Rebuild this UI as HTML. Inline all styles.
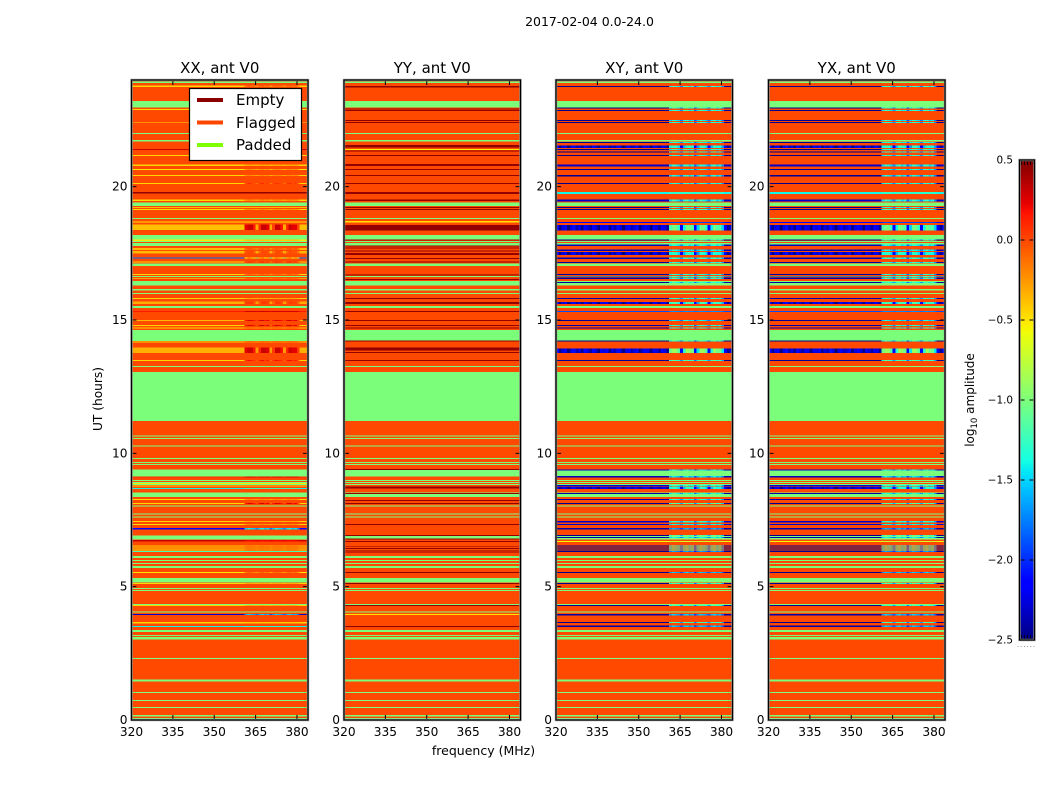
<!DOCTYPE html>
<html>
<head>
<meta charset="utf-8">
<title>2017-02-04 0.0-24.0</title>
<style>
html,body{margin:0;padding:0;background:#fff;width:1050px;height:800px;overflow:hidden}
svg{display:block}
text{font-family:"DejaVu Sans","Liberation Sans",sans-serif;fill:#000}
</style>
</head>
<body>
<svg id="figure" width="1050" height="800" viewBox="0 0 1050 800" xmlns="http://www.w3.org/2000/svg">
  <rect x="0" y="0" width="1050" height="800" fill="#fff"/>
  <text x="589.5" y="26" font-size="12.5" text-anchor="middle">2017-02-04 0.0-24.0</text>
  <text x="483.5" y="755" font-size="12.5" text-anchor="middle">frequency (MHz)</text>
  <text x="0" y="0" font-size="12.2" text-anchor="middle" transform="translate(102,399) rotate(-90)">UT (hours)</text>
  <g id="panels"></g>
  <g id="legend">
    <rect x="189.5" y="88.5" width="112" height="72" fill="#fff" stroke="#000" stroke-width="1.2"/>
    <line x1="197" x2="223" y1="100" y2="100" stroke="#8b0000" stroke-width="4"/>
    <text x="236" y="105" font-size="15">Empty</text>
    <line x1="197" x2="223" y1="122.5" y2="122.5" stroke="#ff4500" stroke-width="4"/>
    <text x="236" y="128" font-size="15">Flagged</text>
    <line x1="197" x2="223" y1="145" y2="145" stroke="#7fff00" stroke-width="4"/>
    <text x="236" y="150" font-size="15">Padded</text>
  </g>
  <g id="colorbar"></g>
  <text x="0" y="0" font-size="12" text-anchor="middle" transform="translate(974,400) rotate(-90)">log<tspan dy="3" font-size="8.5">10</tspan><tspan dy="-3"> amplitude</tspan></text>
</svg>
<script>
// ---- chart data (hours UT, MHz, log10 amplitude) ----
var panelTitles = ['XX, ant V0', 'YY, ant V0', 'XY, ant V0', 'YX, ant V0'];
var xTicks = [320, 335, 350, 365, 380];
var yTicks = [0, 5, 10, 15, 20];
var colorbarTicks = [0.5, 0, -0.5, -1, -1.5, -2, -2.5];
var flaggedValue = 0;
var paddedValue = -1;
// relative response across 64 one-MHz channels, 320..383 MHz (thick rows)
var channelShape = [0,0,0,0,0,0,0,0,0,0,0,0,0,0,0,0,0,0,0,0,0,0,0,0,0,0,0,0,0,0,0,0,0,0,0,0,0,0,0,0,0,
  0.9,1,1,0.8,0.1,0.7,1,1,0.9,0.1,0.6,1,1,0.8,0.1,0.7,1,0.9,0.9,0.6,0,0,0];
// the same response as it appears on thin rows, where the notches wash out
var thinRowShape = [0,0,0,0,0,0,0,0,0,0,0,0,0,0,0,0,0,0,0,0,0,0,0,0,0,0,0,0,0,0,0,0,0,0,0,0,0,0,0,0,0,
  0.8,1,0.9,0.8,0.6,0.9,1,0.8,0.9,0.5,0.8,1,0.9,0.8,0.6,0.9,1,0.8,0.9,0.6,0,0,0];
// channel-to-channel speckle seen on thick low-amplitude rows
var quietSpeckle = [0.1,-0.2,0,0.1,-0.25,0,0.15,-0.1,0,-0.2,0.1,0,-0.15,0.1,0,-0.25,0.05,0,0.1,-0.2,0,-0.1,0.15,0,-0.25,0,0.1,-0.1,0,0.15,-0.2,0,
  0.1,0,-0.25,0.05,0,-0.15,0.1,0,-0.2,0,0,0,0,0,0,0,0,0,0,0,0,0,0,0,0,0,0,0,0,0.1,-0.2,0];
// padded time ranges [startHour, endHour]
var paddedBands = [[23.94,23.89],[23.21,22.97],[22.01,21.98],[21.75,21.69],[19.41,19.28],[18.83,18.79],[18.19,18.02],
  [17.96,17.92],[17.89,17.78],[17.12,17.03],[16.65,16.61],[16.46,16.29],[16.16,16.11],[16.01,15.98],[15.53,15.45],
  [14.63,14.21],[13.28,13.23],[13.05,11.21],[10.67,10.63],[10.58,10.54],[10.29,10.26],[9.83,9.79],[9.68,9.64],
  [9.60,9.56],[9.39,9.13],[9.0,8.96],[8.93,8.89],[8.85,8.81],[8.53,8.36],[8.04,8.01],[7.74,7.71],[7.63,7.59],
  [6.92,6.77],[6.15,6.08],[6.0,5.96],[5.89,5.85],[5.78,5.70],[5.33,5.16],[4.95,4.91],[4.88,4.84],[4.35,4.31],
  [4.07,4.03],[3.38,3.30],[3.19,3.15],[3.11,3.02],[2.33,2.29],[1.52,1.44],[1.05,1.01],[0.75,0.71],[0.49,0.45],
  [0.19,0.13],[0.08,0]];
// XX rows [startHour, endHour, quietValue, activeValue]
var xxRows = [[23.79,23.74,-0.45,-0.1],[22.91,22.87,-0.45,-0.45],[22.43,22.40,-0.45,-0.45],[21.41,21.38,0.3,0.3],
  [21.19,21.15,-0.45,-0.45],[20.83,20.78,-0.45,-0.3],[20.66,20.63,-0.5,-0.2],[20.44,20.40,-0.45,-0.2],
  [20.14,20.10,-0.45,0.1],[19.80,19.74,0.45,0.45],[19.52,19.47,-0.45,-0.2],[19.24,19.20,-0.35,-0.35],
  [19.16,19.13,-0.45,-0.2],[18.69,18.66,-0.5,-0.5],[18.58,18.38,-0.38,0.3],[18.02,17.97,-0.5,-0.4],
  [17.70,17.63,-0.35,-0.05],[17.59,17.49,-0.35,0],[17.34,17.30,-1.8,-0.3],[17.19,17.16,-0.45,0.1],
  [16.73,16.68,-0.45,-0.1],[16.58,16.55,-0.6,-0.2],[15.83,15.79,-0.45,-0.3],[15.69,15.60,-0.32,0.05],
  [15.34,15.30,0.15,0.3],[15.0,14.96,-0.35,0.3],[14.81,14.78,-0.45,0.3],[14.72,14.69,-0.45,-0.2],
  [14.19,14.16,-0.45,-0.2],[13.97,13.76,-0.33,0.3],[13.50,13.46,-0.45,0.2],[9.13,9.09,0.1,0.25],
  [8.88,8.85,-0.5,-0.5],[8.79,8.75,-0.45,-0.4],[8.70,8.66,-1.4,-1.2],[8.29,8.25,-0.45,-0.2],[8.14,8.10,-0.45,0.3],
  [7.46,7.42,-0.45,-0.3],[7.35,7.31,-0.45,-0.2],[7.20,7.15,-2.1,-1.4],[6.75,6.70,0.3,0.2],[6.54,6.51,-0.45,-0.3],
  [6.47,6.44,-0.45,-0.3],[6.39,6.36,-0.5,-0.3],[6.33,6.30,-1.2,-1.2],[5.55,5.51,-0.5,-0.1],[5.14,5.10,-0.45,-0.3],
  [4.31,4.27,-0.45,-0.3],[3.98,3.93,-2.3,-1.5],[3.68,3.62,-0.45,-0.4],[3.53,3.49,-1.4,-1.3]];
// YY rows [startHour, endHour, value]
var yyRows = [[23.78,23.72,0.45],[22.93,22.89,0.45],[22.88,22.84,0.45],[22.50,22.46,0.45],[22.43,22.39,0.45],
  [21.56,21.47,0.45],[21.41,21.38,-0.5],[21.36,21.32,0.45],[21.19,21.15,0.45],[20.85,20.78,0.45],[20.66,20.63,0.45],
  [20.44,20.40,0.45],[20.14,20.10,0.45],[19.80,19.73,0.45],[19.52,19.47,0.45],[19.24,19.20,0.45],[19.16,19.13,0.45],
  [18.71,18.66,-0.5],[18.56,18.36,0.45],[18.02,17.98,0.45],[17.79,17.76,0.45],[17.72,17.68,0.45],[17.61,17.57,0.45],
  [17.51,17.44,0.45],[17.33,17.29,0.45],[17.19,17.16,0.45],[16.71,16.67,0.45],[16.54,16.50,0.45],[15.83,15.79,0.45],
  [15.68,15.60,0.45],[15.34,15.30,0.45],[15.0,14.96,0.45],[14.81,14.78,0.45],[14.72,14.68,0.45],[14.23,14.19,0.45],
  [13.96,13.86,0.45],[13.80,13.76,0.45],[13.50,13.46,0.45],[9.41,9.38,0.45],[8.76,8.68,0.45],[8.51,8.48,0.45],[8.25,8.21,0.45],
  [8.14,8.10,0.45],[7.35,7.31,0.45],[6.94,6.90,0.45],[6.81,6.77,0.45],[6.71,6.68,0.45],[6.53,6.50,0.45],
  [6.45,6.42,0.45],[6.38,6.35,0.45],[6.32,6.29,0.45],[5.55,5.51,0.45],[5.14,5.10,0.45],[4.31,4.28,0.45],
  [3.98,3.94,-0.5],[3.53,3.49,0.45]];
// XY rows [startHour, endHour, quietValue, activeValue]
var xyRows = [[23.78,23.73,-2.45,-1.2],[22.97,22.93,-2.45,-1.2],[22.88,22.84,-2.45,-1.2],[22.50,22.46,-2.45,-1.3],
  [22.43,22.39,-2.45,-1.2],[21.68,21.64,-2.45,-1.2],[21.54,21.45,-2.25,-1.3],[21.41,21.38,-2.45,-1.2],
  [21.32,21.28,-2.45,-1.2],[21.19,21.15,-2.45,-1.2],[20.83,20.76,-2.3,-1.3],[20.66,20.63,-2.45,-1.2],
  [20.44,20.39,-2.45,-1.3],[20.14,20.10,-2.45,-1.2],[19.80,19.73,-1.4,-1.3],[19.52,19.45,-2.3,-1.3],
  [19.24,19.20,-2.45,-1.2],[19.16,19.13,-2.45,-1.1],[18.68,18.64,-2.1,-1.9],[18.56,18.36,-2.25,-1.05],
  [18.02,17.98,-2.45,-1.2],[17.83,17.78,-2.35,-1.3],[17.65,17.59,-2.35,-1.3],[17.55,17.44,-2.25,-1.3],
  [17.34,17.29,-2.35,-1.2],[17.18,17.14,-2.4,-1.2],[16.73,16.69,-2.4,-1.2],[16.63,16.59,-2.4,-1.3],
  [16.58,16.54,-2.4,-1.2],[16.43,16.39,-2.4,-1.2],[15.83,15.79,-2.4,-1.2],[15.68,15.60,-2.25,-1.2],
  [15.34,15.30,-1.9,-1.7],[15.0,14.96,-2.45,-1.3],[14.81,14.78,-2.4,-1.2],[14.72,14.68,-2.4,-1.2],
  [14.23,14.19,-2.45,-1.2],[13.93,13.76,-2.25,-0.9],[13.50,13.46,-2.45,-1.1],[9.39,9.36,-2.3,-1.4],
  [9.15,9.09,-2.35,-1.4],[8.81,8.76,-2.3,-1.2],[8.74,8.66,-2.25,-1.3],[8.51,8.48,-2.4,-1.2],[8.29,8.25,-2.4,-1.2],
  [8.14,8.10,-2.45,-1.0],[7.46,7.41,-2.3,-1.2],[7.35,7.31,-2.3,-1.3],[7.20,7.14,-2.4,-1.6],[6.94,6.90,-2.45,-1.0],
  [6.86,6.83,-2.4,-1.3],[6.71,6.68,-0.6,-0.7],[6.54,6.51,-2.5,-1.1],[6.47,6.44,-2.5,-1.1],[6.39,6.36,-2.5,-1.1],
  [6.33,6.30,-2.45,-1.6],[5.55,5.51,-2.45,-1.5],[5.14,5.10,-2.45,-1.1],[4.31,4.28,-2.45,-1.1],[3.98,3.92,-2.4,-1.5],
  [3.68,3.64,-2.45,-1.1],[3.54,3.49,-2.4,-1.5]];
// YX rows repeat the XY pattern in this observation
var yxRows = xyRows.map(function (r) { return r.slice(); });

// ---- scales ----
var NS = 'http://www.w3.org/2000/svg';
var panelLefts = [131.5, 344, 556, 768.5];
var panelWidth = 176.5;
var plotTop = 80, plotBottom = 720;
var xMin = 320, xMax = 384, yMin = 0, yMax = 24;
var thickRowHours = 0.08;
function xScale(mhz, left) { return left + (mhz - xMin) / (xMax - xMin) * panelWidth; }
function yScale(h) { return plotBottom - (h - yMin) / (yMax - yMin) * (plotBottom - plotTop); }
function cbarScale(v) { return 640 - (v + 2.5) / 3 * 480; }
function interp(x, pts) {
  for (var i = 1; i < pts.length; i++) {
    if (x <= pts[i][0]) {
      var a = pts[i - 1], b = pts[i];
      return a[1] + (x - a[0]) / (b[0] - a[0]) * (b[1] - a[1]);
    }
  }
  return pts[pts.length - 1][1];
}
var jetR = [[0,0],[0.35,0],[0.66,1],[0.89,1],[1,0.5]];
var jetG = [[0,0],[0.125,0],[0.375,1],[0.64,1],[0.91,0],[1,0]];
var jetB = [[0,0.5],[0.11,1],[0.34,1],[0.65,0],[1,0]];
function jet(v) {
  var f = Math.max(0, Math.min(1, (v + 2.5) / 3));
  return 'rgb(' + Math.round(interp(f, jetR) * 255) + ',' + Math.round(interp(f, jetG) * 255) + ',' + Math.round(interp(f, jetB) * 255) + ')';
}
function mk(tag, attrs, parent) {
  var el = document.createElementNS(NS, tag);
  for (var k in attrs) el.setAttribute(k, attrs[k]);
  parent.appendChild(el);
  return el;
}
function rowValues(row) {
  var lo = row[2];
  var hi = row.length > 3 ? row[3] : row[2];
  var thick = (row[0] - row[1]) >= thickRowHours;
  var shape = thick ? channelShape : thinRowShape;
  var out = [];
  for (var ch = 0; ch < shape.length; ch++) {
    var v = lo + (hi - lo) * shape[ch];
    if (thick && lo < -2) v += quietSpeckle[ch];
    out.push(v);
  }
  return out;
}

// ---- panels ----
var panelsG = document.getElementById('panels');
var panelRows = [xxRows, yyRows, xyRows, yxRows];
panelTitles.forEach(function (title, p) {
  var left = panelLefts[p];
  var g = mk('g', {}, panelsG);
  
  
  var base = mk('rect', {x: left, y: plotTop, width: panelWidth, height: plotBottom - plotTop, fill: jet(flaggedValue), 'shape-rendering': 'crispEdges'}, g);
  
  
  paddedBands.forEach(function (b) {
    var r = mk('rect', {x: left, y: yScale(b[0]), width: panelWidth, height: yScale(b[1]) - yScale(b[0]), fill: jet(paddedValue), 'shape-rendering': 'crispEdges'}, g);
    
    
  });
  panelRows[p].forEach(function (row) {
    var vals = rowValues(row);
    var ch = 0;
    while (ch < vals.length) {
      var end = ch + 1;
      while (end < vals.length && vals[end] === vals[ch]) end++;
      var x0 = xScale(xMin + ch, left), x1 = xScale(xMin + end, left);
      var c = mk('rect', {x: x0, y: yScale(row[0]), width: x1 - x0, height: yScale(row[1]) - yScale(row[0]), fill: jet(vals[ch]), 'shape-rendering': 'crispEdges'}, g);
      
      
      ch = end;
    }
  });
  xTicks.forEach(function (t) {
    var x = xScale(t, left);
    var tb = mk('line', {x1: x, x2: x, y1: plotBottom, y2: plotBottom - 5, stroke: '#000', 'stroke-width': 1}, g);
    
    
    var tt = mk('line', {x1: x, x2: x, y1: plotTop, y2: plotTop + 5, stroke: '#000', 'stroke-width': 1}, g);
    
    
    var lb = mk('text', {x: x, y: 736, 'font-size': 12.2, 'text-anchor': 'middle'}, g);
    
    
    lb.textContent = t;
  });
  yTicks.forEach(function (t) {
    var y = yScale(t);
    var tl = mk('line', {x1: left, x2: left + 5, y1: y, y2: y, stroke: '#000', 'stroke-width': 1}, g);
    
    
    var tr = mk('line', {x1: left + panelWidth, x2: left + panelWidth - 5, y1: y, y2: y, stroke: '#000', 'stroke-width': 1}, g);
    
    
    var lb = mk('text', {x: left - 4, y: y + 4, 'font-size': 12.2, 'text-anchor': 'end'}, g);
    
    
    lb.textContent = t;
  });
  var halo = mk('rect', {x: left, y: plotTop, width: panelWidth, height: plotBottom - plotTop, fill: 'none', stroke: '#999', 'stroke-width': 2.4}, g);
  
  
  var frame = mk('rect', {x: left, y: plotTop, width: panelWidth, height: plotBottom - plotTop, fill: 'none', stroke: '#000', 'stroke-width': 1.2}, g);
  
  
  var tt = mk('text', {x: left + panelWidth / 2, y: 73, 'font-size': 15, 'text-anchor': 'middle'}, g);
  
  
  tt.textContent = title;
});

// ---- colorbar ----
var cb = document.getElementById('colorbar');
var cbLeft = 1019.5, cbWidth = 15;
for (var i = 0; i < 240; i++) {
  var vLow = -2.5 + 3 * i / 240, vHigh = -2.5 + 3 * (i + 1) / 240;
  var seg = mk('rect', {x: cbLeft, y: cbarScale(vHigh), width: cbWidth, height: cbarScale(vLow) - cbarScale(vHigh) + 0.5, fill: jet((vLow + vHigh) / 2), 'shape-rendering': 'crispEdges'}, cb);
  
  
}
colorbarTicks.forEach(function (t) {
  var y = cbarScale(t);
  var l = mk('line', {x1: cbLeft, x2: cbLeft + 5, y1: y, y2: y, stroke: '#000', 'stroke-width': 1}, cb);
  
  
  var r = mk('line', {x1: cbLeft + cbWidth, x2: cbLeft + cbWidth - 5, y1: y, y2: y, stroke: '#000', 'stroke-width': 1}, cb);
  
  
  var lb = mk('text', {x: 1013, y: y + 3.5, 'font-size': 10.4, 'text-anchor': 'end'}, cb);
  
  
  lb.textContent = (t < 0 ? '\u2212' : '') + Math.abs(t).toFixed(1);
});
for (var k = 0; k < 5; k++) {
  var tx = cbLeft + 2 + k * 3;
  var up = mk('line', {x1: tx, x2: tx, y1: 160, y2: 165, stroke: '#000', 'stroke-width': 0.8}, cb);
  
  
  var dn = mk('line', {x1: tx, x2: tx, y1: 640, y2: 635, stroke: '#000', 'stroke-width': 0.8}, cb);
  
  
}
for (var d = 0; d < 6; d++) {
  var dot = mk('rect', {x: 1017.5 + d * 3.2, y: 646, width: 1, height: 1, fill: '#999'}, cb);
  
  
}
var cbHalo = mk('rect', {x: cbLeft, y: 160, width: cbWidth, height: 480, fill: 'none', stroke: '#999', 'stroke-width': 2.4}, cb);


var cbFrame = mk('rect', {x: cbLeft, y: 160, width: cbWidth, height: 480, fill: 'none', stroke: '#000', 'stroke-width': 1.2}, cb);


</script>
</body>
</html>
